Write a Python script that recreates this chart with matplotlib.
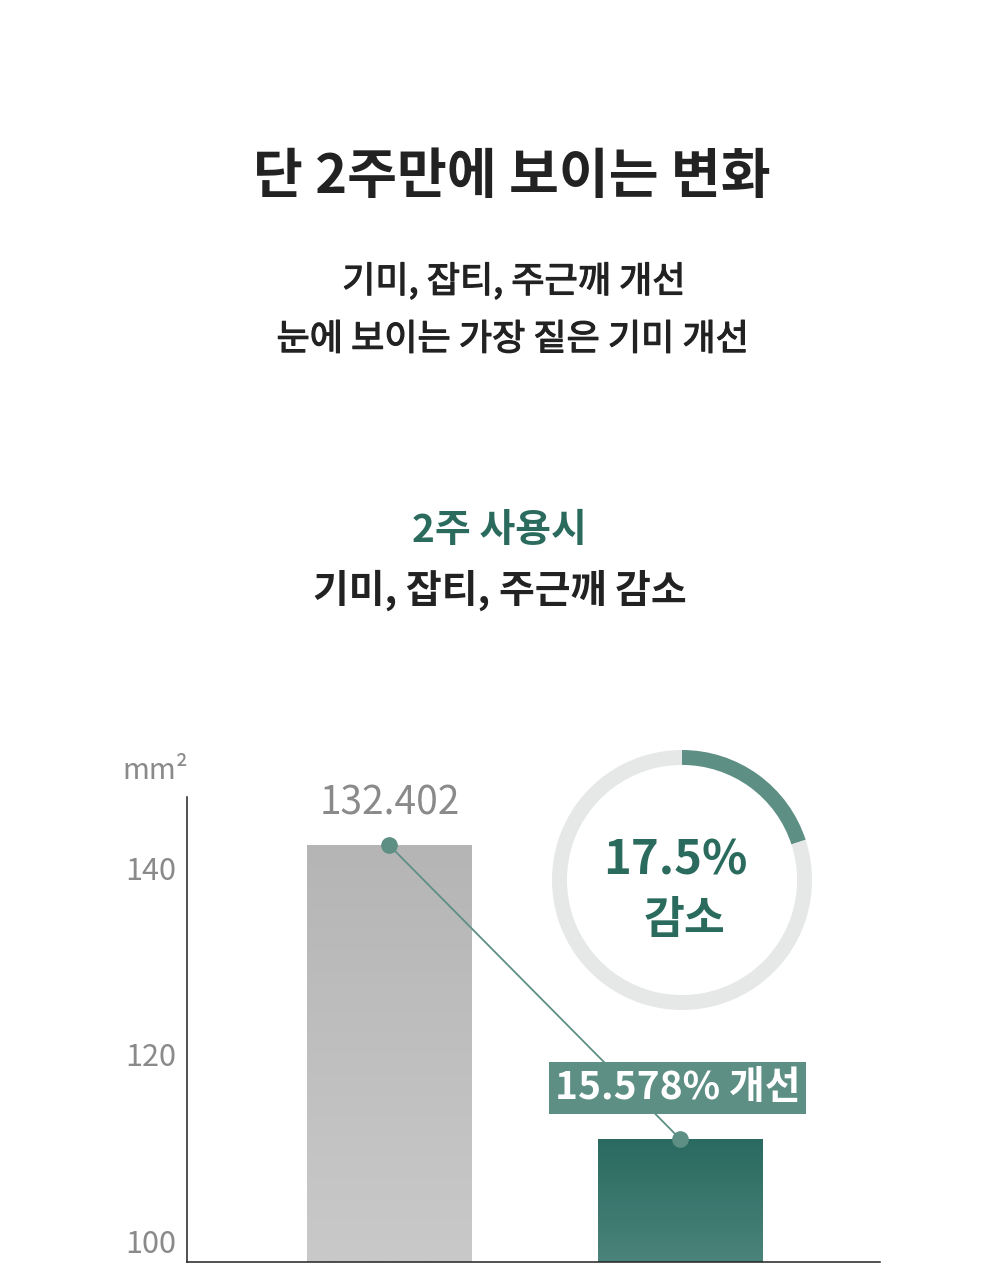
import matplotlib.pyplot as plt
import matplotlib.patheffects as pe
import numpy as np
from matplotlib.colors import to_rgb

plt.rcParams["font.family"] = ["Noto Sans CJK KR", "DejaVu Sans"]

# --- texts ---
title = "단 2주만에 보이는 변화"
subtitle_lines = ["기미, 잡티, 주근깨 개선", "눈에 보이는 가장 짙은 기미 개선"]
kicker = "2주 사용시"
section_title = "기미, 잡티, 주근깨 감소"

# --- bar data (heights as drawn on the axis) ---
bar_pos = [0, 1]
bar_heights = [142.4, 110.9]
bar_top_label = "132.402"
change_label = "15.578% 개선"
y_ticks = [100, 120, 140]
y_unit = "mm²"

# --- ring data ---
ring_share = 0.20
ring_label = "17.5%"
ring_caption = "감소"

GREEN = "#2a6b5e"
GREEN_SOFT = "#5e8f84"
DARK = "#222222"
TICK_GREY = "#8a8a8a"

fig = plt.figure(figsize=(10, 12.8), dpi=100)
fig.patch.set_facecolor("white")

# medium weight faked with a thin stroke on the regular face
medium = [pe.withStroke(linewidth=0.9, foreground=DARK)]

# headline block
fig.text(0.512, 0.861, title, ha="center", va="center", fontsize=39,
         fontweight="bold", color=DARK)
fig.text(0.514, 0.7797, subtitle_lines[0], ha="center", va="center",
         fontsize=26, color=DARK, path_effects=medium)
fig.text(0.513, 0.7344, subtitle_lines[1], ha="center", va="center",
         fontsize=26, color=DARK, path_effects=medium)
fig.text(0.499, 0.5852, kicker, ha="center", va="center", fontsize=28,
         fontweight="bold", color=GREEN)
fig.text(0.500, 0.539, section_title, ha="center", va="center", fontsize=28,
         fontweight="bold", color=DARK)

# --- bar chart ---
ax = fig.add_axes([0.187, 0.0141, 0.693, 0.3633])
y_low, y_high = 97.75, 147.6
x_low, x_high = -0.696, 1.686
bar_w = 0.567

bars = ax.bar(bar_pos, np.array(bar_heights) - y_low, bottom=y_low,
              width=bar_w, color="none", edgecolor="none")

gradients = [("#b5b5b5", "#c9c9c9"), ("#2a6a60", "#4a837a")]
for bar, (c_top, c_bot) in zip(bars, gradients):
    top = np.array(to_rgb(c_top))
    bot = np.array(to_rgb(c_bot))
    t = np.linspace(0, 1, 256)[:, None]
    grad = (top * (1 - t) + bot * t)[:, None, :]
    x0 = bar.get_x()
    im = ax.imshow(grad, extent=(x0, x0 + bar.get_width(), y_low, bar.get_y() + bar.get_height()),
                   origin="upper", aspect="auto", zorder=1)
    im.set_clip_path(bar)

# connecting line with dots
ax.plot(bar_pos, bar_heights, color=GREEN_SOFT, lw=1.3, zorder=2)
ax.plot(bar_pos, bar_heights, "o", color=GREEN_SOFT, ms=11, zorder=4)

ax.annotate(bar_top_label, (bar_pos[0], bar_heights[0]), xytext=(0, 30),
            textcoords="offset points", ha="center", va="center",
            fontsize=28, color=TICK_GREY, annotation_clip=False)

ax.set_xlim(x_low, x_high)
ax.set_ylim(y_low, y_high)
ax.set_xticks([])
ax.set_yticks(y_ticks)
ax.tick_params(axis="y", length=0, pad=8, labelsize=22, labelcolor=TICK_GREY)
for side in ["top", "right"]:
    ax.spines[side].set_visible(False)
for side in ["left", "bottom"]:
    ax.spines[side].set_color(DARK)
    ax.spines[side].set_linewidth(1.1)
ax.set_facecolor("none")

# change badge sits on top of the connector (figure-level text, data coords)
fig.text(0.99, 116.4, change_label, transform=ax.transData, ha="center",
         va="center", fontsize=28, fontweight="bold", color="white", zorder=10,
         bbox=dict(boxstyle="square,pad=0.16", facecolor=GREEN_SOFT, edgecolor="none"))

fig.text(0.188, 0.398, y_unit, ha="right", va="center", fontsize=21, color=TICK_GREY)

# --- ring ---
ring_ax = fig.add_axes([0.552, 1 - 1010 / 1280, 0.26, 260 / 1280])
ring_ax.pie([ring_share, 1 - ring_share], colors=[GREEN_SOFT, "#e5e8e7"],
            startangle=90, counterclock=False, radius=1,
            wedgeprops=dict(width=0.115, edgecolor="none"))
ring_ax.set_xlim(-1, 1)
ring_ax.set_ylim(-1, 1)
ring_ax.set_aspect("equal")
ring_ax.axis("off")
ring_ax.text(-0.05, 0.15, ring_label, ha="center", va="center", fontsize=34,
             fontweight="bold", color=GREEN)
ring_ax.text(0.02, -0.31, ring_caption, ha="center", va="center", fontsize=32,
             fontweight="bold", color=GREEN)

plt.savefig("out.png", dpi=100, facecolor="white")
plt.close()
